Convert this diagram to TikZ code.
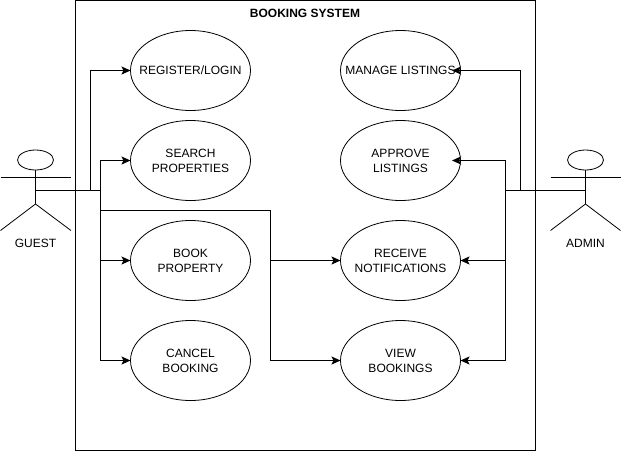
\documentclass[tikz,border=0pt]{standalone}
\usepackage{fontspec}
\setmainfont{Liberation Sans}
\usetikzlibrary{positioning, shapes, arrows.meta}

\begin{document}
\begin{tikzpicture}[
    x=1pt, y=-1pt,
    node distance=20pt,
    font=\fontsize{12}{15}\selectfont,
    usecase/.style={ellipse, draw, line width=0.8pt, minimum width=120pt, minimum height=80pt,
        inner xsep=-40pt, inner ysep=-12pt, outer sep=0pt, align=center},
    head/.style={ellipse, draw, line width=0.8pt, minimum width=36pt, minimum height=20pt, inner sep=0pt, outer sep=0pt},
    limb/.style={line width=0.8pt},
    link/.style={line width=1pt},
    flow/.style={link, -{Stealth[length=9pt, width=8pt, inset=2pt]}},
    overlap/.style={flow, shorten >=-8.5pt}
]
\useasboundingbox (0,0) rectangle (621,451);

% System boundary
\node[draw, line width=1pt, minimum width=460pt, minimum height=450pt, inner sep=0pt, outer sep=0pt] (system) at (305.5,225.5) {};
\node[font=\fontsize{12}{15}\selectfont\bfseries] (title) at (305,13) {BOOKING SYSTEM};

% Use cases, guest side
\node[usecase] (register) at (190.5,70.5) {REGISTER/LOGIN};
\node[usecase, below=10pt of register] (search) {SEARCH\\PROPERTIES};
\node[usecase, below=of search] (book) {BOOK\\PROPERTY};
\node[usecase, below=of book] (cancel) {CANCEL\\BOOKING};

% Use cases, admin side
\node[usecase, right=90pt of register] (manage) {MANAGE LISTINGS};
\node[usecase, right=90pt of search] (approve) {APPROVE\\LISTINGS};
\node[usecase, right=90pt of book] (receive) {RECEIVE\\NOTIFICATIONS};
\node[usecase, right=90pt of cancel] (viewb) {VIEW\\BOOKINGS};

% Guest actor
\node[head] (guesthead) at (35.5,160) {};
\coordinate (guesthip) at (35.5,204);
\coordinate (guestmid) at (35.5,190.5);
\draw[limb] (guesthead) -- (guesthip);
\draw[limb] (0.5,177) -- (71,177);
\draw[limb] (0.5,230.5) -- (guesthip) -- (71,230.5);
\node (guest) at (35.5,243) {GUEST};

% Admin actor
\node[head] (adminhead) at (585.5,160) {};
\coordinate (adminhip) at (585.5,204);
\coordinate (adminmid) at (585.5,190.5);
\draw[limb] (adminhead) -- (adminhip);
\draw[limb] (550.5,177) -- (620.5,177);
\draw[limb] (550.5,230.5) -- (adminhip) -- (620.5,230.5);
\node (admin) at (585.5,243) {ADMIN};

% Junctions
\coordinate (gleft) at (90.5,190.5);
\coordinate (gright) at (100.5,190.5);
\coordinate (hub) at (270.5,210.5);
\coordinate (aleft) at (505.5,190.5);
\coordinate (aright) at (520.5,190.5);

% Guest edges
\draw[link] (guestmid) -- (gright);
\draw[flow] (gleft) |- (register.west);
\draw[flow] (gright) |- (search.west);
\draw[flow] (gright) |- (book.west);
\draw[flow] (gright) |- (cancel.west);
\draw[link] (gright) |- (hub);
\draw[flow] (hub) |- (receive.west);
\draw[flow] (hub) |- (viewb.west);

% Admin edges
\draw[link] (adminmid) -- (aleft);
\draw[overlap] (aright) |- (manage.east);
\draw[overlap] (aleft) |- (approve.east);
\draw[flow] (aleft) |- (receive.east);
\draw[flow] (aleft) |- (viewb.east);

\end{tikzpicture}
\end{document}
